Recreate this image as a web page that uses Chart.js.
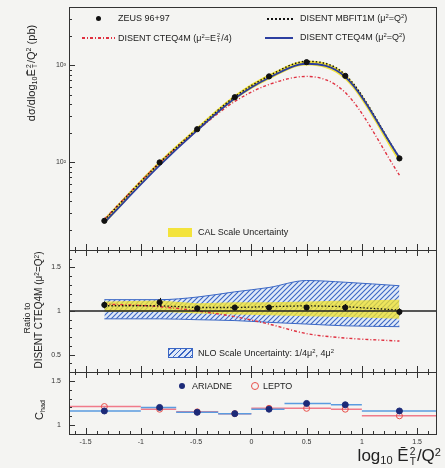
<!DOCTYPE html>
<html>
<head>
<meta charset="utf-8">
<script src="https://cdn.jsdelivr.net/npm/chart.js@4.4.0/dist/chart.umd.min.js"></script>
<style>
body { margin: 0; background: #f4f4f2; font-family: "Liberation Sans", Arial, sans-serif; color: #222; }
#wrap { position: relative; width: 445px; height: 468px; overflow: hidden; }
canvas { position: absolute; left: 0; }
.t { position: absolute; white-space: nowrap; font-size: 9px; line-height: 1; }
.rot { position: absolute; white-space: nowrap; transform: translate(-50%, -50%) rotate(-90deg); line-height: 1; }
sup { font-size: 0.65em; vertical-align: 0.5em; line-height: 0; }
sub { font-size: 0.65em; vertical-align: -0.3em; line-height: 0; }
.ss { display: inline-flex; flex-direction: column; vertical-align: middle; font-size: 0.6em; line-height: 0.95; margin: 0 1px; }
.sw { position: absolute; }
</style>
</head>
<body>
<div id="wrap">
  <canvas id="c1" width="445" height="252" style="top:0"></canvas>
  <canvas id="c2" width="445" height="124" style="top:250px"></canvas>
  <canvas id="c3" width="445" height="96" style="top:372px"></canvas>

  <!-- legend, top panel -->
  <div class="sw" style="left:96px;top:16px;width:5px;height:5px;border-radius:50%;background:#111"></div>
  <div class="t" style="left:118px;top:14px">ZEUS 96+97</div>
  <div class="sw" style="left:267px;top:18px;width:26px;height:0;border-top:2px dotted #111"></div>
  <div class="t" style="left:300px;top:14px">DISENT MBFIT1M (μ<sup>2</sup>=Q<sup>2</sup>)</div>
  <div class="sw" style="left:82px;top:37px;width:33px;height:2px;background:repeating-linear-gradient(90deg,#e03040 0 3px,transparent 3px 5px,#e03040 5px 6px,transparent 6px 8px)"></div>
  <div class="t" style="left:118px;top:33px">DISENT CTEQ4M (μ<sup>2</sup>=E<span class="ss"><span>2</span><span>T</span></span>/4)</div>
  <div class="sw" style="left:265px;top:37px;width:28px;height:2px;background:#2c3ea0"></div>
  <div class="t" style="left:300px;top:33px">DISENT CTEQ4M (μ<sup>2</sup>=Q<sup>2</sup>)</div>
  <div class="sw" style="left:168px;top:228px;width:24px;height:9px;background:#f3e33b"></div>
  <div class="t" style="left:198px;top:228px">CAL Scale Uncertainty</div>

  <!-- legend, ratio panel -->
  <div class="sw" style="left:168px;top:348px;width:23px;height:8px;border:1px solid #3a66c4;background:repeating-linear-gradient(135deg,#3a66c4 0 1px,#dfe9f8 1px 4px)"></div>
  <div class="t" style="left:198px;top:349px">NLO Scale Uncertainty: 1/4μ<sup>2</sup>, 4μ<sup>2</sup></div>

  <!-- legend, hadronisation panel -->
  <div class="sw" style="left:179px;top:383px;width:6px;height:6px;border-radius:50%;background:#1c2a78"></div>
  <div class="t" style="left:192px;top:382px">ARIADNE</div>
  <div class="sw" style="left:251px;top:382px;width:6px;height:6px;border-radius:50%;border:1px solid #e8504a"></div>
  <div class="t" style="left:263px;top:382px">LEPTO</div>

  <!-- axis titles -->
  <div class="rot" style="left:32px;top:73px;font-size:11px">dσ/dlog<sub>10</sub>Ē<span class="ss"><span>2</span><span>T</span></span>/Q<sup>2</sup> (pb)</div>
  <div class="rot" style="left:27px;top:318px;font-size:9px">Ratio to</div>
  <div class="rot" style="left:39px;top:310px;font-size:10px">DISENT CTEQ4M (μ<sup>2</sup>=Q<sup>2</sup>)</div>
  <div class="rot" style="left:39px;top:410px;font-size:11px">C<sub>had</sub></div>
  <div class="t" style="right:4px;top:447px;font-size:17px">log<sub>10</sub> Ē<span class="ss"><span>2</span><span>T</span></span>/Q<sup>2</sup></div>
</div>

<script>
// bins in log10(E_T^2/Q^2)
const xCenters = [-1.33, -0.83, -0.49, -0.15, 0.16, 0.5, 0.85, 1.34];
const binEdges = [-1.65, -1, -0.68, -0.3, 0, 0.3, 0.72, 1.0, 1.68];
const xTickVals = [-1.5, -1, -0.5, 0, 0.5, 1, 1.5];
const xTickLabels = ['-1.5', '-1', '-0.5', '0', '0.5', '1', '1.5'];

// top panel: cross section (pb)
const zeusXsec = [25, 100, 220, 470, 770, 1080, 780, 110];
const mbfitXsec = [25.5, 99, 222, 475, 780, 1100, 800, 112];
const cteqQ2Xsec = [24, 93, 214, 455, 745, 1040, 760, 112];
const cteqEtXsec = [26, 99, 214, 425, 635, 770, 525, 74];
const calLow = [23, 93, 208, 440, 715, 1000, 710, 100];
const calHigh = [26.5, 104, 232, 495, 810, 1120, 815, 116];

// middle panel: ratio to DISENT CTEQ4M (mu^2=Q^2)
const ratioData = [1.07, 1.10, 1.03, 1.04, 1.04, 1.04, 1.04, 0.99];
const ratioErr = [0.04, 0.05, 0.03, 0.03, 0.03, 0.03, 0.04, 0.04];
const ratioMbfit = [1.06, 1.06, 1.04, 1.04, 1.05, 1.06, 1.05, 1.01];
const ratioEt = [1.08, 1.05, 1.0, 0.935, 0.85, 0.74, 0.69, 0.655];
const nloLow = [0.91, 0.91, 0.90, 0.89, 0.87, 0.85, 0.83, 0.82];
const nloHigh = [1.13, 1.13, 1.16, 1.22, 1.27, 1.35, 1.33, 1.29];
const calRatioLow = [0.99, 0.99, 0.97, 0.96, 0.95, 0.94, 0.93, 0.91];
const calRatioHigh = [1.11, 1.12, 1.09, 1.10, 1.10, 1.11, 1.12, 1.13];

// bottom panel: hadronisation correction
const ariadne = [1.16, 1.20, 1.145, 1.13, 1.18, 1.245, 1.23, 1.16];
const lepto = [1.21, 1.18, 1.15, 1.13, 1.19, 1.19, 1.18, 1.105];

Chart.defaults.font.family = '"Liberation Sans", Arial, sans-serif';
Chart.defaults.color = '#333';

const X_MIN = -1.65, X_MAX = 1.68;

function pts(ys) {
    return xCenters.map((x, i) => ({ x: x, y: ys[i] }));
}

// horizontal segment per bin, with gaps between bins
function steps(vals) {
    const out = [];
    vals.forEach((v, i) => {
        out.push({ x: binEdges[i], y: v }, { x: binEdges[i + 1], y: v }, { x: binEdges[i + 1], y: null });
    });
    return out;
}

function hatchPattern() {
    const c = document.createElement('canvas');
    c.width = c.height = 5;
    const g = c.getContext('2d');
    g.fillStyle = '#dfe9f8';
    g.fillRect(0, 0, 5, 5);
    g.strokeStyle = '#3a66c4';
    g.lineWidth = 1.1;
    g.beginPath();
    g.moveTo(0, 5); g.lineTo(5, 0);
    g.moveTo(-1, 1); g.lineTo(1, -1);
    g.moveTo(4, 6); g.lineTo(6, 4);
    g.stroke();
    return g.createPattern(c, 'repeat');
}

// no extra space for tick labels: the panels have to butt together
function noPad(s) {
    s.paddingTop = 0;
    s.paddingBottom = 0;
    s.paddingLeft = 0;
    s.paddingRight = 0;
}

// frame with inward tick marks like the original plot
function frameTicks(yMajor, yMinor, topTicks) {
    return {
        id: 'frameTicks',
        afterDraw(chart) {
            const { ctx, chartArea: a, scales } = chart;
            const x = scales.x, y = scales.y;
            ctx.save();
            ctx.strokeStyle = '#333';
            ctx.lineWidth = 1;
            ctx.strokeRect(a.left + 0.5, a.top + 0.5, a.right - a.left - 1, a.bottom - a.top);
            ctx.beginPath();
            for (let k = -16; k <= 16; k++) {
                const val = k / 10;
                if (val <= X_MIN || val >= X_MAX) continue;
                const px = Math.round(x.getPixelForValue(val)) + 0.5;
                const len = k % 5 === 0 ? 6 : 3;
                ctx.moveTo(px, a.bottom);
                ctx.lineTo(px, a.bottom - len);
                if (topTicks) {
                    ctx.moveTo(px, a.top);
                    ctx.lineTo(px, a.top + len);
                }
            }
            yMajor.forEach(v => {
                const py = Math.round(y.getPixelForValue(v)) + 0.5;
                ctx.moveTo(a.left, py);
                ctx.lineTo(a.left + 6, py);
            });
            yMinor.forEach(v => {
                const py = Math.round(y.getPixelForValue(v)) + 0.5;
                ctx.moveTo(a.left, py);
                ctx.lineTo(a.left + 3, py);
            });
            ctx.stroke();
            ctx.restore();
        }
    };
}

const errorBars = {
    id: 'errorBars',
    afterDatasetsDraw(chart) {
        const { ctx, scales: { x, y } } = chart;
        ctx.save();
        ctx.strokeStyle = '#111';
        ctx.lineWidth = 1;
        ctx.beginPath();
        xCenters.forEach((xv, i) => {
            const px = Math.round(x.getPixelForValue(xv)) + 0.5;
            ctx.moveTo(px, y.getPixelForValue(ratioData[i] - ratioErr[i]));
            ctx.lineTo(px, y.getPixelForValue(ratioData[i] + ratioErr[i]));
        });
        ctx.stroke();
        ctx.restore();
    }
};

function yAxis(type, min, max, tickVals, fmt, pad) {
    return {
        type: type,
        min: min,
        max: max,
        afterFit: s => { s.width = 69; noPad(s); },
        afterBuildTicks: s => { s.ticks = tickVals.map(v => ({ value: v })); },
        ticks: { callback: fmt, font: { size: 7 }, color: '#333', padding: pad },
        grid: { display: false, drawTicks: false },
        border: { display: false }
    };
}

const baseOpts = {
    responsive: false,
    animation: false,
    events: [],
    plugins: { legend: { display: false }, tooltip: { enabled: false } }
};

// ---- top panel ----
const logMinor = [];
[10, 100, 1000].forEach(d => { for (let m = 2; m <= 9; m++) if (d * m > 12.5 && d * m < 4000) logMinor.push(d * m); });

new Chart(document.getElementById('c1'), {
    type: 'line',
    data: {
        datasets: [
            { data: pts(zeusXsec), showLine: false, pointRadius: 2.6, pointBackgroundColor: '#111', pointBorderColor: '#111', order: 0 },
            { data: pts(cteqQ2Xsec), borderColor: '#2c3ea0', borderWidth: 1.8, pointRadius: 0, cubicInterpolationMode: 'monotone', order: 1 },
            { data: pts(mbfitXsec), borderColor: '#111', borderWidth: 1.5, borderDash: [1.5, 2], pointRadius: 0, cubicInterpolationMode: 'monotone', order: 1 },
            { data: pts(cteqEtXsec), borderColor: '#e03040', borderWidth: 1.4, borderDash: [3, 2, 1, 2], pointRadius: 0, cubicInterpolationMode: 'monotone', order: 1 },
            { data: pts(calLow), borderWidth: 0, pointRadius: 0, cubicInterpolationMode: 'monotone', order: 2 },
            { data: pts(calHigh), borderWidth: 0, pointRadius: 0, cubicInterpolationMode: 'monotone', fill: '-1', backgroundColor: '#f3e33b', order: 2 }
        ]
    },
    options: Object.assign({}, baseOpts, {
        layout: { autoPadding: false, padding: { top: 7, bottom: 2, left: 0, right: 8 } },
        scales: {
            x: { type: 'linear', min: X_MIN, max: X_MAX, display: false },
            y: yAxis('logarithmic', 12.5, 4000, [100, 1000], v => (v === 100 ? '10²' : '10³'), 3)
        }
    }),
    plugins: [frameTicks([100, 1000], logMinor, false)]
});

// ---- ratio panel ----
const hatch = hatchPattern();
const ratioMinor = [];
for (let k = 4; k <= 16; k++) if (k % 5 !== 0) ratioMinor.push(k / 10);

new Chart(document.getElementById('c2'), {
    type: 'line',
    data: {
        datasets: [
            { data: pts(ratioData), showLine: false, pointRadius: 2.6, pointBackgroundColor: '#111', pointBorderColor: '#111', order: 0 },
            { data: [{ x: X_MIN, y: 1 }, { x: X_MAX, y: 1 }], borderColor: '#222', borderWidth: 1.5, pointRadius: 0, order: 1 },
            { data: pts(ratioMbfit), borderColor: '#111', borderWidth: 1.3, borderDash: [1.5, 2], pointRadius: 0, order: 1 },
            { data: pts(ratioEt), borderColor: '#e03040', borderWidth: 1.4, borderDash: [3, 2, 1, 2], pointRadius: 0, cubicInterpolationMode: 'monotone', order: 1 },
            { data: pts(calRatioLow), borderWidth: 0, pointRadius: 0, order: 2 },
            { data: pts(calRatioHigh), borderWidth: 0, pointRadius: 0, fill: '-1', backgroundColor: 'rgba(243,227,40,0.75)', order: 2 },
            { data: pts(nloLow), borderColor: '#3a66c4', borderWidth: 1, pointRadius: 0, cubicInterpolationMode: 'monotone', order: 3 },
            { data: pts(nloHigh), borderColor: '#3a66c4', borderWidth: 1, pointRadius: 0, cubicInterpolationMode: 'monotone', fill: '-1', backgroundColor: hatch, order: 3 }
        ]
    },
    options: Object.assign({}, baseOpts, {
        layout: { autoPadding: false, padding: { top: 0, bottom: 2, left: 0, right: 8 } },
        scales: {
            x: { type: 'linear', min: X_MIN, max: X_MAX, display: false },
            y: yAxis('linear', 0.3, 1.7, [0.5, 1, 1.5], v => String(v), 8)
        }
    }),
    plugins: [frameTicks([0.5, 1, 1.5], ratioMinor, true), errorBars]
});

// ---- hadronisation correction panel ----
const chadMinor = [];
for (let k = 10; k <= 15; k++) if (k % 5 !== 0) chadMinor.push(k / 10);

new Chart(document.getElementById('c3'), {
    type: 'line',
    data: {
        datasets: [
            { data: pts(ariadne), showLine: false, pointRadius: 3, pointBackgroundColor: '#1c2a78', pointBorderColor: '#1c2a78', order: 0 },
            { data: pts(lepto), showLine: false, pointRadius: 3, pointBackgroundColor: 'rgba(0,0,0,0)', pointBorderColor: '#e8504a', pointBorderWidth: 1, order: 0 },
            { data: steps(ariadne), borderColor: '#5a9be0', borderWidth: 1.5, pointRadius: 0, spanGaps: false, order: 1 },
            { data: steps(lepto), borderColor: '#f07a8a', borderWidth: 1.5, pointRadius: 0, spanGaps: false, order: 1 }
        ]
    },
    options: Object.assign({}, baseOpts, {
        layout: { autoPadding: false, padding: { top: 0, bottom: 0, left: 0, right: 8 } },
        scales: {
            x: {
                type: 'linear', min: X_MIN, max: X_MAX,
                afterFit: s => { s.height = 34; noPad(s); },
                afterBuildTicks: s => { s.ticks = xTickVals.map(v => ({ value: v })); },
                ticks: { callback: v => xTickLabels[xTickVals.indexOf(v)], font: { size: 7 }, color: '#333', padding: 4, maxRotation: 0, autoSkip: false },
                grid: { display: false, drawTicks: false },
                border: { display: false }
            },
            y: yAxis('linear', 0.9, 1.6, [1, 1.5], v => String(v), 8)
        }
    }),
    plugins: [frameTicks([1, 1.5], chadMinor, true)]
});
</script>
</body>
</html>
